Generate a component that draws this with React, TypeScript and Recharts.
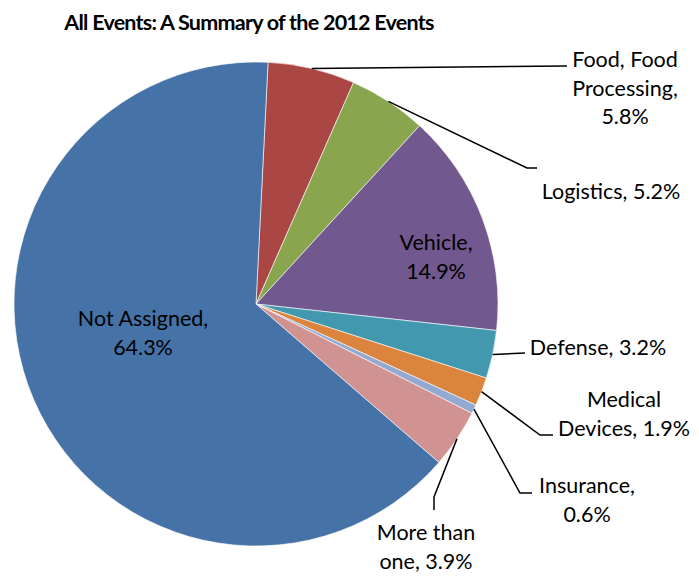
import React from "react";
import { PieChart, Pie, Cell } from "recharts";

// clockwise from the top
const categories = [
  "Food, Food Processing",
  "Logistics",
  "Vehicle",
  "Defense",
  "Medical Devices",
  "Insurance",
  "More than one",
  "Not Assigned",
];
const shares = [5.8, 5.2, 14.9, 3.2, 1.9, 0.6, 3.9, 64.3];
const colors = ["#AA4643", "#89A54E", "#71588F", "#4198AF", "#DB843D", "#93A9CF", "#D19392", "#4572A7"];
// words per label line
const labelBreaks = [[2, 1, 1], [3], [1, 1], [2], [1, 2], [1, 1], [2, 2], [2, 1]];

const data = categories.map((name, i) => ({ name, value: shares[i] }));

const CX = 256;
const CY = 304;
const R = 242;
const FONT = "Lato, 'Open Sans', sans-serif";

// label placement relative to the pie centre: text centre x, first baseline y, leader bend points
const labelLayout: Record<string, { tx: number; ty: number; leader?: [number, number][] }> = {
  "Food, Food Processing": { tx: 369, ty: -237, leader: [[311, -238]] },
  Logistics: { tx: 355, ty: -105, leader: [[271, -136], [281, -136]] },
  Vehicle: { tx: 180, ty: -54 },
  Defense: { tx: 342, ty: 51, leader: [[269, 49]] },
  "Medical Devices": { tx: 368, ty: 103, leader: [[284, 131], [297, 131]] },
  Insurance: { tx: 331, ty: 189, leader: [[264, 189], [276, 189]] },
  "More than one": { tx: 170, ty: 236, leader: [[178, 193], [178, 206]] },
  "Not Assigned": { tx: -113, ty: 22 },
};

const RAD = Math.PI / 180;

const renderLabel = (props: any) => {
  const { cx, cy, midAngle, outerRadius, name, value, index } = props;
  const layout = labelLayout[name];
  if (!layout) return null;
  const words = `${name}, ${Number(value).toFixed(1)}%`.split(" ");
  const lines: string[] = [];
  let k = 0;
  for (const n of labelBreaks[index]) {
    lines.push(words.slice(k, k + n).join(" "));
    k += n;
  }
  const ex = cx + outerRadius * Math.cos(-midAngle * RAD);
  const ey = cy + outerRadius * Math.sin(-midAngle * RAD);
  const pts = layout.leader ? [[ex, ey], ...layout.leader.map(([dx, dy]) => [cx + dx, cy + dy])] : null;
  return (
    <g key={`lbl-${index}`}>
      {pts && (
        <polyline
          points={pts.map((p) => p.join(",")).join(" ")}
          fill="none"
          stroke="#000"
          strokeWidth={1.5}
        />
      )}
      <text x={cx + layout.tx} y={cy + layout.ty} textAnchor="middle" fill="#000" fontFamily={FONT} fontSize={21.5}>
        {lines.map((l, i) => (
          <tspan key={i} x={cx + layout.tx} dy={i === 0 ? 0 : 28.7}>
            {l}
          </tspan>
        ))}
      </text>
    </g>
  );
};

export default function App() {
  return (
    <div style={{ width: 699, height: 576, background: "#fff" }}>
      <style>{`body{margin:0}`}</style>
      <PieChart width={699} height={576} margin={{ top: 0, right: 0, bottom: 0, left: 0 }}>
        <text
          x={249}
          y={30}
          textAnchor="middle"
          fontFamily={FONT}
          fontWeight={700}
          fontSize={21.5}
          letterSpacing={-0.75}
          fill="#000"
        >
          All Events: A Summary of the 2012 Events
        </text>
        <Pie
          data={data}
          dataKey="value"
          nameKey="name"
          cx={CX}
          cy={CY}
          outerRadius={R}
          startAngle={87.15}
          endAngle={-272.85}
          stroke="#ffffff"
          strokeWidth={0.6}
          label={renderLabel}
          labelLine={false}
          isAnimationActive={false}
        >
          {data.map((d, i) => (
            <Cell key={d.name} fill={colors[i]} />
          ))}
        </Pie>
      </PieChart>
    </div>
  );
}
